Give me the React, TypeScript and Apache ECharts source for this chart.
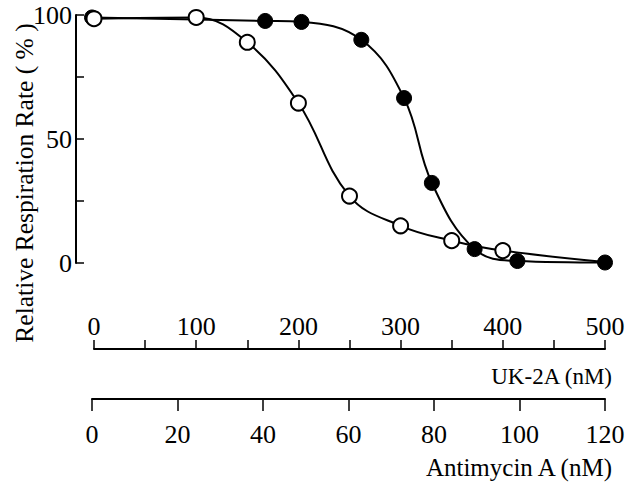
import React, { useEffect, useRef } from "react";
import * as echarts from "echarts";

// UK-2A (open circles), dose in nM
const ukDose = [0, 100, 150, 200, 250, 300, 350, 400, 500];
const ukRate = [98.5, 99, 89, 64.5, 27, 15, 9, 5, 0.4];
// Antimycin A (filled circles), dose in nM
const amDose = [0, 40.5, 49, 63, 73, 79.5, 89.5, 99.5, 120];
const amRate = [99, 97.6, 97.2, 90, 66.5, 32.3, 5.6, 0.8, 0.2];

const ukLabelTicks = [0, 100, 200, 300, 400, 500];
const amLabelTicks = [0, 20, 40, 60, 80, 100, 120];
const yLabelTicks = [0, 50, 100];

const FONT = "Liberation Serif";

export default function App() {
  const ref = useRef<HTMLDivElement>(null);
  useEffect(() => {
    if (!ref.current) return;
    const chart = echarts.init(ref.current, null, { renderer: "svg" });
    const axisText = { color: "#000", fontFamily: FONT, fontSize: 26 };
    const option: any = {
      animation: false,
      backgroundColor: "#fff",
      textStyle: { fontFamily: FONT },
      grid: [
        { left: 94, right: 25, top: 15, bottom: 220 },
        { left: 92, right: 25, top: 15, bottom: 220 },
      ],
      xAxis: [
        {
          gridIndex: 0,
          type: "value",
          min: 0,
          max: 500,
          interval: 50,
          position: "bottom",
          offset: 86,
          axisLine: { show: true, onZero: false, lineStyle: { color: "#000", width: 2 } },
          axisTick: { show: true, inside: true, length: 9, lineStyle: { color: "#000", width: 1.5 } },
          axisLabel: {
            ...axisText,
            inside: true,
            margin: 10,
            formatter: (v: number) => (ukLabelTicks.includes(v) ? String(v) : ""),
          },
          splitLine: { show: false },
        },
        {
          gridIndex: 1,
          type: "value",
          min: 0,
          max: 120,
          interval: 20,
          position: "bottom",
          offset: 136,
          axisLine: { show: true, onZero: false, lineStyle: { color: "#000", width: 2 } },
          axisTick: { show: true, inside: false, length: 12, lineStyle: { color: "#000", width: 1.5 } },
          axisLabel: {
            ...axisText,
            margin: 22,
            formatter: (v: number) => (amLabelTicks.includes(v) ? String(v) : ""),
          },
          splitLine: { show: false },
        },
      ],
      yAxis: [
        {
          gridIndex: 0,
          type: "value",
          min: 0,
          max: 100,
          interval: 25,
          offset: 18,
          axisLine: { show: true, onZero: false, lineStyle: { color: "#000", width: 2 } },
          axisTick: { show: true, inside: true, length: 8, lineStyle: { color: "#000", width: 1.5 } },
          axisLabel: {
            ...axisText,
            margin: 4,
            padding: [9, 0, 0, 0],
            formatter: (v: number) => (yLabelTicks.includes(v) ? String(v) : ""),
          },
          splitLine: { show: false },
        },
        { gridIndex: 1, type: "value", min: 0, max: 100, show: false },
      ],
      graphic: [
        {
          type: "text",
          x: 612,
          y: 376,
          style: { text: "UK-2A (nM)", fontFamily: FONT, fontSize: 23, fill: "#000", align: "right", verticalAlign: "middle" },
        },
        {
          type: "text",
          x: 612,
          y: 467,
          style: { text: "Antimycin A (nM)", fontFamily: FONT, fontSize: 25, fill: "#000", align: "right", verticalAlign: "middle" },
        },
        {
          type: "text",
          x: 24,
          y: 183,
          rotation: Math.PI / 2,
          style: {
            text: "Relative Respiration Rate ( % )",
            fontFamily: FONT,
            fontSize: 25.5,
            fill: "#000",
            align: "center",
            verticalAlign: "middle",
          },
        },
      ],
      series: [
        {
          type: "line",
          name: "Antimycin A",
          xAxisIndex: 1,
          yAxisIndex: 1,
          data: amDose.map((d, i) => [d, amRate[i]]),
          smooth: 0.4,
          symbol: "circle",
          symbolSize: 15,
          itemStyle: { color: "#000", borderColor: "#000", borderWidth: 1 },
          lineStyle: { color: "#000", width: 2 },
          z: 2,
        },
        {
          type: "line",
          name: "UK-2A",
          xAxisIndex: 0,
          yAxisIndex: 0,
          data: ukDose.map((d, i) =>
            i === ukDose.length - 1
              ? { value: [d, ukRate[i]], symbol: "none" }
              : [d, ukRate[i]]
          ),
          smooth: 0.4,
          symbol: "circle",
          symbolSize: 15,
          itemStyle: { color: "#fff", borderColor: "#000", borderWidth: 2 },
          lineStyle: { color: "#000", width: 2 },
          z: 3,
        },
      ],
    };
    chart.setOption(option);
    return () => chart.dispose();
  }, []);
  return (
    <div
      ref={ref}
      style={{ position: "fixed", left: 0, top: 0, width: 630, height: 483, background: "#fff" }}
    />
  );
}
